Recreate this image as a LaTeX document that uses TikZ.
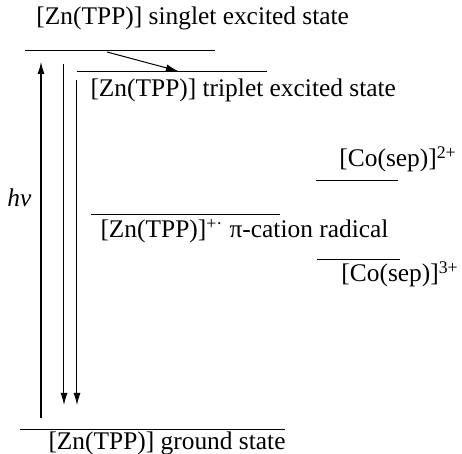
\documentclass[tikz,border=0pt]{standalone}
\usepackage{fontspec}
\setmainfont{Liberation Serif}
\usetikzlibrary{arrows.meta}

\begin{document}
\begin{tikzpicture}[x=0.5pt,y=-0.5pt,>={Latex[length=6pt,width=3.5pt]},line width=0.5pt,
  every node/.style={font=\rmfamily\fontsize{12.7}{15}\selectfont,inner sep=0pt,anchor=base west}]
\useasboundingbox (0,0) rectangle (462,454);
% energy levels
\draw (25,51) coordinate (sl) -- (215,51) coordinate (sr);
\draw (77,72) coordinate (tl) -- (267,72) coordinate (tr);
\draw (316,181) coordinate (c2l) -- (398,181) coordinate (c2r);
\draw (91,215) coordinate (pl) -- (280,215) coordinate (pr);
\draw (317,260) coordinate (c3l) -- (400,260) coordinate (c3r);
\draw (20,430) coordinate (gl) -- (285,430) coordinate (gr);
% labels
\node (singlet) at (36,25) {[Zn(TPP)] singlet excited state};
\node (triplet) at (90,97) {[Zn(TPP)] triplet excited state};
\node (cotwo) at (339,167) {[Co(sep)]\textsuperscript{2+}};
\node (radical) at (100,238) {[Zn(TPP)]\textsuperscript{+·} π-cation radical};
\node (cothree) at (341,282) {[Co(sep)]\textsuperscript{3+}};
\node (ground) at (48,450) {[Zn(TPP)] ground state};
\node (hnu) at (7,207) {\itshape hν};
% transitions
\coordinate (absb) at (41,418);
\coordinate (abst) at (41,62);
\coordinate (isca) at (107,52);
\coordinate (iscb) at (178,71);
\coordinate (fla) at (64,64);
\coordinate (flb) at (64,405);
\coordinate (pha) at (77,80);
\coordinate (phb) at (77,405);
\draw[->] (absb) -- (abst);
\draw[->] (isca) -- (iscb);
\draw[->] (fla) -- (flb);
\draw[->] (pha) -- (phb);
\end{tikzpicture}
\end{document}
